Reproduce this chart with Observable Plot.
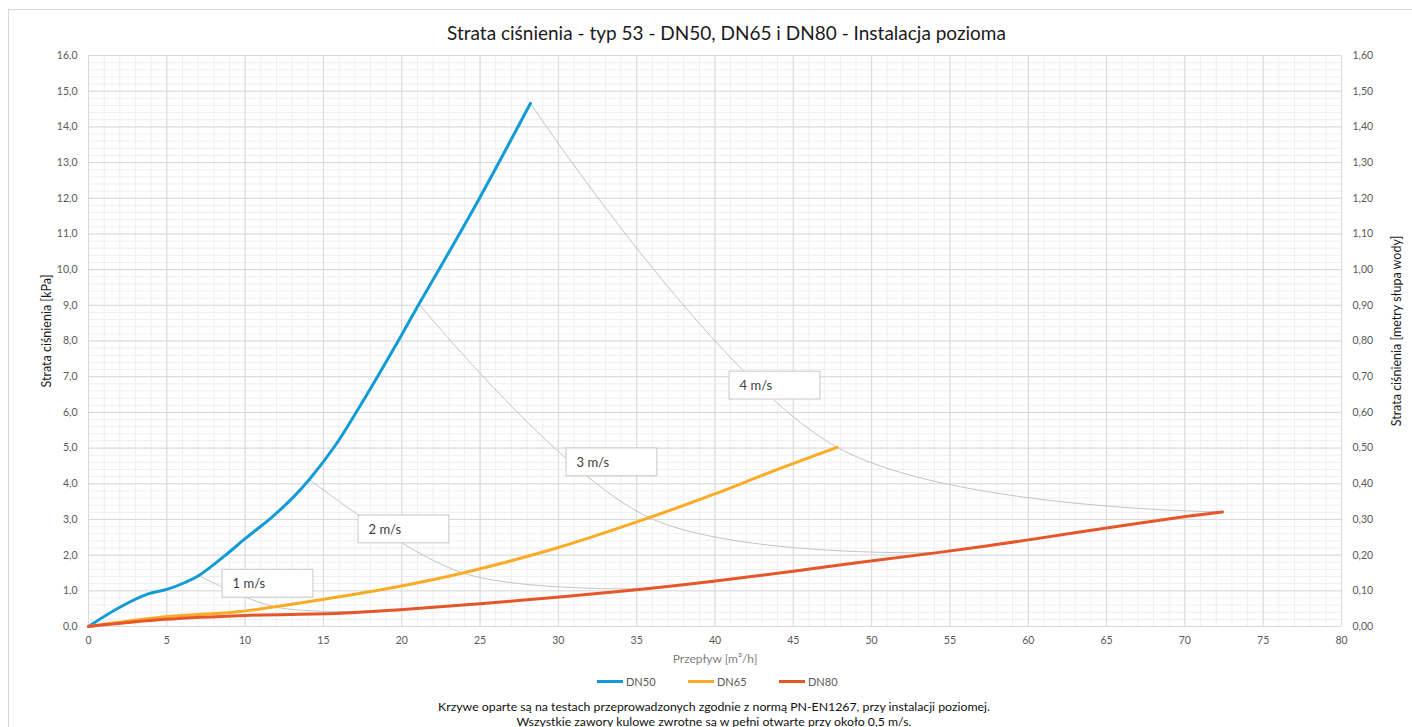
<!DOCTYPE html>
<html>
<head>
<meta charset="utf-8">
<script src="https://cdn.jsdelivr.net/npm/d3@7"></script>
<script src="https://cdn.jsdelivr.net/npm/@observablehq/plot@0.6"></script>
<style>
  body { margin: 0; background: #fff; font-family: Lato, "Noto Sans", sans-serif; }
  #frame { position: absolute; left: 8px; top: 9px; width: 1420px; height: 740px; border: 1px solid #d9d9d9; box-sizing: border-box; }
  #title { position: absolute; left: 0; width: 1453px; top: 21px; text-align: center; font-size: 19px; line-height: 24px; color: #1a1a1a; white-space: nowrap; }
  #chart { position: absolute; left: 0; top: 40px; }
  #legend { position: absolute; left: 0; top: 674px; height: 14px; width: 1412px; font-size: 11px; color: #595959; }
  .item { position: absolute; top: 0; display: flex; align-items: center; height: 14px; }
  .sw { width: 26px; height: 3px; margin-right: 3px; }
  #caption { position: absolute; left: 0; width: 1428px; top: 699px; text-align: center; font-size: 12.3px; line-height: 15px; color: #111; white-space: nowrap; }
</style>
</head>
<body>
<div id="frame"></div>
<div id="title"></div>
<div id="chart"></div>
<div id="legend"></div>
<div id="caption"></div>
<script>
// ---- data ----
const titleText = "Strata ciśnienia - typ 53 - DN50, DN65 i DN80 - Instalacja pozioma";
const yLabelLeft = "Strata ciśnienia [kPa]";
const yLabelRight = "Strata ciśnienia [metry słupa wody]";
const xLabel = "Przepływ [m³/h]";
const captionLines = [
  "Krzywe oparte są na testach przeprowadzonych zgodnie z normą PN-EN1267, przy instalacji poziomej.",
  "Wszystkie zawory kulowe zwrotne są w pełni otwarte przy około 0,5 m/s."
];

const seriesNames = ["DN50", "DN65", "DN80"];
const seriesColors = ["#129bd6", "#fbab25", "#e5562a"];

const dn50Q = [0, 2.0, 3.85, 5.0, 6.2, 7.05, 8.75, 10.0, 11.7, 13.0, 14.1, 15.8, 17.2, 19.9, 21.1, 22.7, 25.0, 28.22];
const dn50P = [0, 0.54, 0.92, 1.04, 1.24, 1.43, 2.00, 2.46, 3.06, 3.59, 4.12, 5.10, 6.08, 8.10, 9.04, 10.25, 12.03, 14.66];

const dn65Q = [0, 4.9, 9.2, 11.7, 16.1, 19.9, 23.9, 29.9, 35.8, 39.9, 43.8, 47.8];
const dn65P = [0, 0.27, 0.40, 0.54, 0.84, 1.13, 1.50, 2.20, 3.05, 3.70, 4.37, 5.02];

const dn80Q = [0, 4.9, 10.0, 16.1, 19.9, 25.0, 29.9, 35.0, 39.9, 45.0, 49.3, 54.2, 59.9, 65.0, 70.05, 72.4];
const dn80P = [0, 0.20, 0.31, 0.37, 0.47, 0.64, 0.82, 1.03, 1.27, 1.55, 1.80, 2.07, 2.42, 2.76, 3.08, 3.21];

// constant-velocity guide lines (points on DN50, DN65, DN80)
const velocityNames = ["1 m/s", "2 m/s", "3 m/s", "4 m/s"];
const velocityQ = [[7.07, 11.9, 18.1], [14.1, 23.9, 36.1], [21.1, 35.8, 54.2], [28.22, 47.8, 72.4]];
const velocityP = [[1.42, 0.55, 0.43], [4.12, 1.50, 1.06], [9.04, 3.05, 2.07], [14.66, 5.02, 3.21]];
// label boxes: left edge (m³/h) and vertical centre (kPa)
const labelQ = [8.56, 17.24, 30.52, 40.93];
const labelP = [1.20, 2.72, 4.60, 6.75];

const xTicks = d3.range(0, 81, 5);
const yTicks = d3.range(0, 17, 1);

// ---- tables ----
const seriesQ = [dn50Q, dn65Q, dn80Q];
const seriesP = [dn50P, dn65P, dn80P];
const lines = seriesNames.flatMap((s, i) => seriesQ[i].map((q, j) => ({series: s, q, p: seriesP[i][j]})));
const guides = velocityNames.flatMap((v, i) => velocityQ[i].map((q, j) => ({v, q, p: velocityP[i][j]})));
const labels = velocityNames.map((v, i) => ({v, q: labelQ[i], p: labelP[i]}));

const boxW = 5.8, boxH = 0.39;
const fmtL = d => d.toFixed(1).replace(".", ",");
const fmtR = d => (d / 10).toFixed(2).replace(".", ",");

const chart = Plot.plot({
  width: 1412,
  height: 640,
  marginLeft: 88,
  marginRight: 71,
  marginTop: 15,
  marginBottom: 54,
  x: {domain: [0, 80]},
  y: {domain: [0, 16]},
  color: {domain: seriesNames, range: seriesColors},
  style: {fontFamily: "Lato, 'Noto Sans', sans-serif", fontSize: "10.5px", color: "#595959", background: "transparent", overflow: "visible"},
  marks: [
    Plot.ruleX(d3.range(0, 81, 1), {stroke: "#efefef", strokeWidth: 1}),
    Plot.ruleY(d3.range(0, 16.01, 0.2), {stroke: "#efefef", strokeWidth: 1}),
    Plot.ruleX(xTicks, {stroke: "#d9d9d9", strokeWidth: 1}),
    Plot.ruleY(yTicks, {stroke: "#d9d9d9", strokeWidth: 1}),
    Plot.line(guides, {x: "q", y: "p", z: "v", stroke: "#c4c4c4", strokeWidth: 1, curve: "catmull-rom"}),
    Plot.rect(labels, {x1: "q", x2: d => d.q + boxW, y1: d => d.p - boxH, y2: d => d.p + boxH, fill: "white", stroke: "#c8c8c8", strokeWidth: 1}),
    Plot.text(labels, {x: "q", y: "p", text: "v", textAnchor: "start", dx: 10, fontSize: 13, fill: "#404040"}),
    Plot.line(lines, {x: "q", y: "p", z: "series", stroke: "series", strokeWidth: 3, curve: "catmull-rom"}),
    Plot.axisX(xTicks, {tickSize: 0, tickPadding: 10, label: null, tickFormat: d => String(d)}),
    Plot.axisY(yTicks, {anchor: "left", tickSize: 0, tickPadding: 11, label: null, tickFormat: fmtL}),
    Plot.axisY(yTicks, {anchor: "right", tickSize: 0, tickPadding: 11, label: null, tickFormat: fmtR}),
    Plot.text([yLabelLeft], {frameAnchor: "left", textAnchor: "middle", rotate: -90, dx: -42, dy: -10, fontSize: 12.5, fill: "#1a1a1a"}),
    Plot.text([yLabelRight], {frameAnchor: "right", textAnchor: "middle", rotate: -90, dx: 55, dy: -10, fontSize: 12.5, fill: "#1a1a1a"}),
    Plot.text([xLabel], {frameAnchor: "bottom", dy: 36, fontSize: 12, fill: "#7f7f7f"})
  ]
});
document.getElementById("chart").appendChild(chart);
document.getElementById("title").textContent = titleText;

const legend = document.getElementById("legend");
seriesNames.forEach((s, i) => {
  const it = document.createElement("div");
  it.className = "item";
  it.style.left = (597 + i * 91) + "px";
  const sw = document.createElement("div");
  sw.className = "sw";
  sw.style.background = seriesColors[i];
  const tx = document.createElement("span");
  tx.textContent = s;
  it.appendChild(sw); it.appendChild(tx);
  legend.appendChild(it);
});
document.getElementById("caption").innerHTML = captionLines.map(l => `<div>${l}</div>`).join("");
</script>
</body>
</html>
